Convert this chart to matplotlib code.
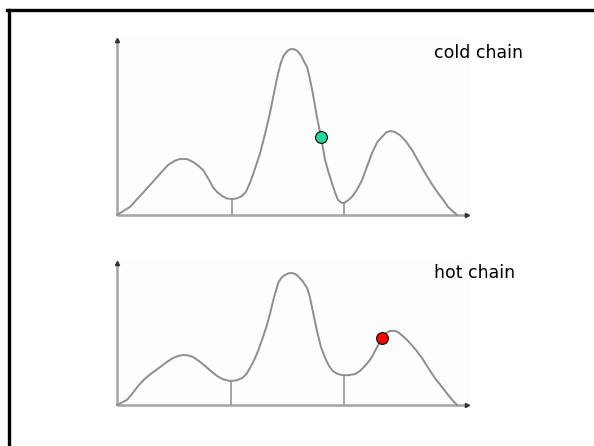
import numpy as np
import matplotlib
matplotlib.use("Agg")
from matplotlib import pyplot as plt
from matplotlib.lines import Line2D

# energy landscape seen by the cold chain
cold_x = [0, 0.38, 0.76, 1.18, 1.5, 1.7, 1.85, 2.05, 2.24, 2.4, 2.53, 2.68,
          2.82, 2.95, 3.09, 3.22, 3.38, 3.53, 3.68, 3.8, 3.91, 4.05, 4.21,
          4.35, 4.5, 4.62, 4.74, 4.82, 4.9, 5.0, 5.1, 5.2, 5.3, 5.42, 5.52,
          5.59, 5.66, 5.74, 5.81, 5.88, 6.0, 6.12, 6.22, 6.32, 6.42, 6.5, 6.6,
          6.68, 6.8, 6.91, 7.06, 7.21, 7.35, 7.5, 7.65, 7.79, 7.92, 8.03, 8.15,
          8.32, 8.5, 8.68, 8.87, 9.06, 9.25, 9.44, 9.6, 9.74, 9.88, 10.0]
cold_y = [0, 0.46, 1.26, 2.17, 2.86, 3.1, 3.2, 3.2, 3.03, 2.8, 2.57, 2.1,
          1.6, 1.3, 1.09, 0.95, 0.91, 0.95, 1.09, 1.35, 1.83, 2.6, 3.54,
          4.6, 5.83, 7.0, 8.11, 8.7, 9.1, 9.35, 9.48, 9.48, 9.38, 9.1, 8.7,
          8.46, 7.9, 7.14, 6.4, 5.6, 4.46, 3.14, 2.45, 1.83, 1.25, 0.86, 0.7,
          0.69, 0.85, 1.03, 1.45, 2.0, 2.75, 3.54, 4.15, 4.46, 4.72, 4.8, 4.76,
          4.57, 4.2, 3.71, 3.05, 2.4, 1.8, 1.26, 0.85, 0.46, 0.2, 0]

# flattened landscape for the hot chain
hot_x = [0, 0.29, 0.45, 0.62, 0.82, 1.03, 1.2, 1.35, 1.5, 1.65, 1.8, 1.94,
         2.1, 2.24, 2.42, 2.59, 2.77, 2.94, 3.12, 3.32, 3.5, 3.68, 3.8, 3.91,
         4.03, 4.15, 4.28, 4.41, 4.5, 4.59, 4.67, 4.74, 4.84, 4.94, 5.05, 5.15,
         5.25, 5.32, 5.45, 5.59, 5.67, 5.74, 5.82, 5.91, 6.0, 6.12, 6.23, 6.35,
         6.48, 6.62, 6.8, 7.0, 7.15, 7.29, 7.41, 7.53, 7.66, 7.79, 7.9, 8.03,
         8.15, 8.26, 8.4, 8.56, 8.77, 8.97, 9.16, 9.35, 9.55, 9.74, 9.88, 10.0]
hot_y = [0, 0.29, 0.65, 1.09, 1.5, 1.83, 2.07, 2.29, 2.5, 2.69, 2.8, 2.86,
         2.83, 2.74, 2.5, 2.23, 1.93, 1.66, 1.47, 1.37, 1.4, 1.54, 1.75, 2.11,
         2.55, 3.09, 3.8, 4.57, 5.2, 5.94, 6.5, 6.97, 7.28, 7.43, 7.53, 7.54,
         7.48, 7.37, 7.1, 6.69, 6.2, 5.54, 4.8, 4.0, 3.3, 2.69, 2.25, 1.94,
         1.78, 1.71, 1.7, 1.77, 1.95, 2.23, 2.5, 2.86, 3.35, 3.83, 4.1, 4.23,
         4.24, 4.17, 3.95, 3.66, 3.2, 2.69, 2.1, 1.54, 1.05, 0.57, 0.25, 0]

# valley markers (x, height) and current state of each chain
cold_valleys = [(3.38, 0.91), (6.68, 0.69)]
hot_valleys = [(3.35, 1.37), (6.68, 1.71)]
cold_state = (6.0, 4.46)
hot_state = (7.79, 3.83)

W, H = 594, 446
fig = plt.figure(figsize=(W / 100, H / 100), dpi=100)

GRAY = "#8e8e8e"
AXIS = "#a4a4a4"


def panel(top_px, bottom_px, ytop, xs, ys, valleys, state, color, label):
    # pixel frame: x origin at 117, 34 px per unit; 17.5 px per unit in y
    left_px, right_px = 114, 470
    ax = fig.add_axes([left_px / W, 1 - bottom_px / H,
                       (right_px - left_px) / W, (bottom_px - top_px) / H])
    ax.set_xlim((left_px - 117) / 34, (right_px - 117) / 34)
    ax.set_ylim(-3 / 17.5, (bottom_px - 3 - top_px) / 17.5)
    ax.set_facecolor("#fdfdfd")
    for s in ax.spines.values():
        s.set_visible(False)
    ax.set_xticks([])
    ax.set_yticks([])

    # axes with small arrow heads
    ax.plot([0, 10.29], [0, 0], color=AXIS, lw=1.8, solid_capstyle="butt")
    ax.plot([0, 0], [0, ytop], color=AXIS, lw=1.8, solid_capstyle="butt")
    ax.plot([10.29], [0], marker=">", ms=3, color="#333333")
    ax.plot([0], [ytop], marker="^", ms=3, color="#333333")

    for vx, vy in valleys:
        ax.plot([vx, vx], [0, vy], color=AXIS, lw=1.4)

    ax.plot(xs, ys, color=GRAY, lw=1.4, solid_joinstyle="round")
    ax.plot([state[0]], [state[1]], "o", ms=8.5, color=color,
            markeredgecolor="black", markeredgewidth=0.8, zorder=5)

    fig.text(434 / W, 1 - (top_px + 15) / H, label, fontsize=12.5,
             family="DejaVu Sans", va="center", ha="left")


panel(38, 218, 10.0, cold_x, cold_y, cold_valleys, cold_state,
      "#1ed8a0", "cold chain")
panel(258, 408, 8.11, hot_x, hot_y, hot_valleys, hot_state,
      "#ff0000", "hot chain")

# slide frame on the left and top edges
fig.add_artist(Line2D([8.5 / W, 8.5 / W], [0, 1 - 10 / H],
                      color="black", lw=2.4, transform=fig.transFigure))
fig.add_artist(Line2D([7.3 / W, 1], [1 - 10 / H, 1 - 10 / H],
                      color="black", lw=2.4, transform=fig.transFigure))

fig.savefig("out.png", dpi=100)
